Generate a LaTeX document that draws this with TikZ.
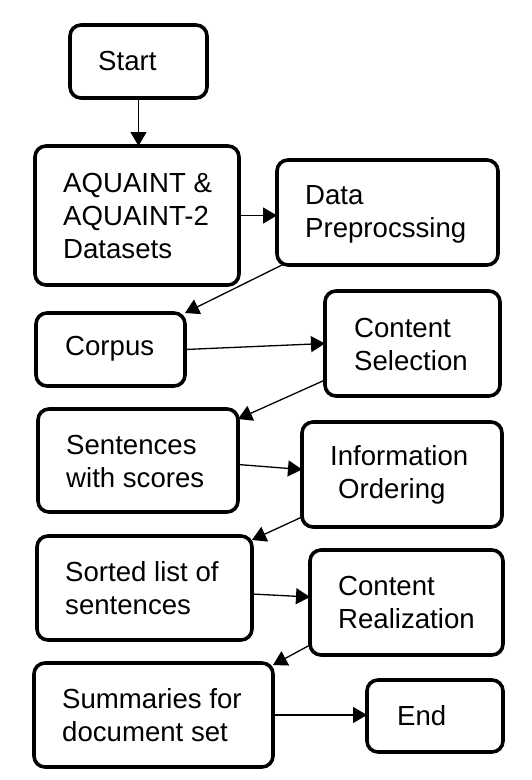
\documentclass[tikz,border=0pt]{standalone}
\usepackage{fontspec}
\setmainfont{Liberation Sans}
\usetikzlibrary{arrows.meta}
\begin{document}
\begin{tikzpicture}[x=1pt,y=-1pt,
  box/.style={draw=black, line width=3.6pt, rounded corners=11pt, inner sep=0pt, outer sep=0pt, anchor=north west},
  txt/.style={anchor=west, align=left, inner sep=0pt, font=\fontsize{27.6}{33}\selectfont},
  conn/.style={line width=1.3pt, -{Triangle[length=14pt,width=16pt]}}]
\useasboundingbox (0,0) rectangle (531,780);
% boxes
\node[box, minimum width=137pt, minimum height=73pt] (start) at (70,25) {};
\node[box, minimum width=204pt, minimum height=139pt] (aq) at (35,146) {};
\node[box, minimum width=221pt, minimum height=105pt] (data) at (277,160) {};
\node[box, minimum width=149pt, minimum height=73pt] (corpus) at (36,313) {};
\node[box, minimum width=175pt, minimum height=105pt] (cs) at (325,291) {};
\node[box, minimum width=200pt, minimum height=103pt] (sent) at (38,409) {};
\node[box, minimum width=200pt, minimum height=105pt] (io) at (302,422) {};
\node[box, minimum width=215pt, minimum height=104pt] (sorted) at (37,536) {};
\node[box, minimum width=193pt, minimum height=105pt] (cr) at (310,550) {};
\node[box, minimum width=239pt, minimum height=104pt] (summ) at (34,663) {};
\node[box, minimum width=136pt, minimum height=72pt] (end) at (367,680) {};
% texts
\node[txt] (tstart) at (98,61) {Start};
\node[txt] (taq) at (63,216) {AQUAINT \&\\AQUAINT-2\\Datasets};
\node[txt] (tdata) at (305,214) {Data\\Preprocssing};
\node[txt] (tcorpus) at (65,349) {Corpus};
\node[txt] (tcs) at (354,344) {Content\\Selection};
\node[txt] (tsent) at (66,461) {Sentences\\with scores};
\node[txt] (tio) at (330,475) {Information\\\hspace{8pt}Ordering};
\node[txt] (tsorted) at (65,588) {Sorted list of\\sentences};
\node[txt] (tcr) at (338,602) {Content\\Realization};
\node[txt] (tsumm) at (62,715) {Summaries for\\document set};
\node[txt] (tend) at (397,716) {End};
% connectors
\draw[conn] (start.south) -- (start.south |- aq.north);
\draw[conn] (aq.east) -- (aq.east -| data.west);
\draw[conn] ([xshift=5pt]data.south west) -- (corpus.north east);
\draw[conn] (corpus.east) -- (cs.west);
\draw[conn] ([yshift=16pt]cs.south west) -- ([yshift=-10pt]sent.north east);
\draw[conn] ([yshift=-4pt]sent.east) -- ([yshift=5pt]io.west);
\draw[conn] ([yshift=10pt]io.south west) -- ([yshift=-4pt]sorted.north east);
\draw[conn] ([yshift=-6pt]sorted.east) -- ([yshift=5.5pt]cr.west);
\draw[conn] ([yshift=10pt]cr.south west) -- ([yshift=-2pt]summ.north east);
\draw[conn] (summ.east) -- (summ.east -| end.west);
\end{tikzpicture}
\end{document}
